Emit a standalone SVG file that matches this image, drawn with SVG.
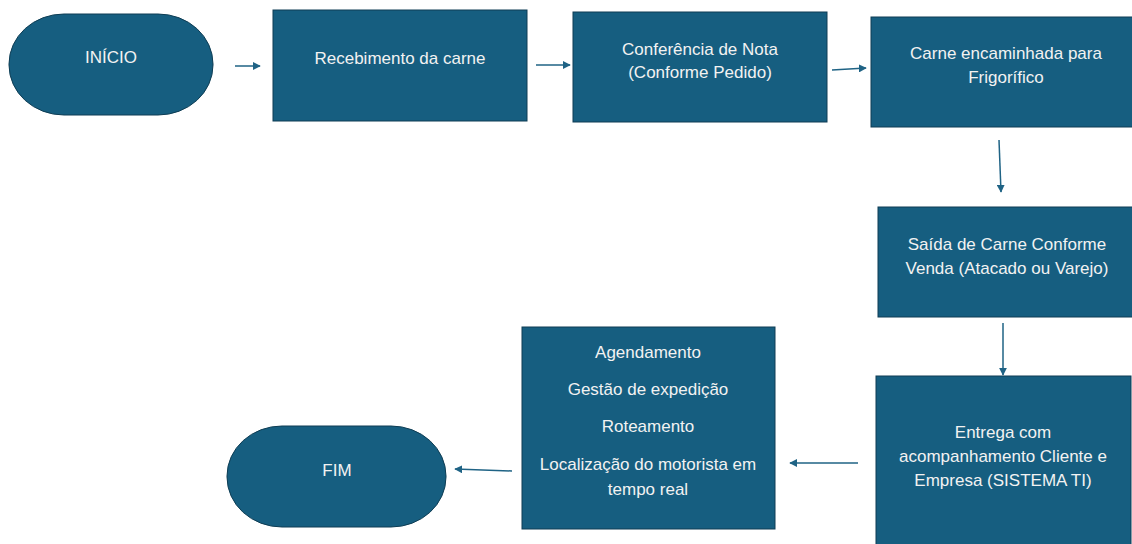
<svg xmlns="http://www.w3.org/2000/svg" width="1132" height="544" viewBox="0 0 1132 544">
<defs>
<style>
.n{fill:#165e80;stroke:#0e3d54;stroke-width:1}
.t{font-family:"Liberation Sans",Arial,sans-serif;font-size:17px;fill:#f2f2f2;text-anchor:middle}
.c{stroke:#1f6385;stroke-width:1.5;fill:none}
</style>
<marker id="ah" viewBox="0 0 10 10" refX="9" refY="5" markerWidth="8" markerHeight="8" markerUnits="userSpaceOnUse" orient="auto">
<path d="M0,0 L10,5 L0,10 z" fill="#1f6385"/>
</marker>
</defs>
<rect width="1132" height="544" fill="#ffffff"/>
<g id="connectors">
<line class="c" x1="235" y1="66" x2="260" y2="66" marker-end="url(#ah)"/>
<line class="c" x1="536" y1="65" x2="570" y2="65" marker-end="url(#ah)"/>
<line class="c" x1="832" y1="70" x2="866" y2="68" marker-end="url(#ah)"/>
<line class="c" x1="999" y1="140" x2="1001" y2="192" marker-end="url(#ah)"/>
<line class="c" x1="1003" y1="323" x2="1003" y2="375" marker-end="url(#ah)"/>
<line class="c" x1="858" y1="463" x2="790" y2="463" marker-end="url(#ah)"/>
<line class="c" x1="512" y1="471" x2="455" y2="469" marker-end="url(#ah)"/>
</g>
<g id="inicio">
<rect class="n" x="9" y="14" width="204" height="101" rx="55" ry="50"/>
<text class="t" x="111" y="63">INÍCIO</text>
</g>
<g id="recebimento">
<rect class="n" x="273" y="10" width="254" height="111"/>
<text class="t" x="400" y="64">Recebimento da carne</text>
</g>
<g id="conferencia">
<rect class="n" x="573" y="12" width="254" height="110"/>
<text class="t" x="700" y="55">Conferência de Nota</text>
<text class="t" x="700" y="78">(Conforme Pedido)</text>
</g>
<g id="frigorifico">
<rect class="n" x="871" y="17" width="262" height="110"/>
<text class="t" x="1006" y="59">Carne encaminhada para</text>
<text class="t" x="1006" y="83">Frigorífico</text>
</g>
<g id="saida">
<rect class="n" x="878" y="207" width="255" height="110"/>
<text class="t" x="1007" y="250">Saída de Carne Conforme</text>
<text class="t" x="1007" y="274">Venda (Atacado ou Varejo)</text>
</g>
<g id="entrega">
<rect class="n" x="876" y="376" width="255" height="170"/>
<text class="t" x="1003" y="438">Entrega com</text>
<text class="t" x="1003" y="462">acompanhamento Cliente e</text>
<text class="t" x="1003" y="486">Empresa (SISTEMA TI)</text>
</g>
<g id="gestao">
<rect class="n" x="522" y="327" width="253" height="202"/>
<text class="t" x="648" y="358">Agendamento</text>
<text class="t" x="648" y="395">Gestão de expedição</text>
<text class="t" x="648" y="432">Roteamento</text>
<text class="t" x="648" y="470">Localização do motorista em</text>
<text class="t" x="648" y="495">tempo real</text>
</g>
<g id="fim">
<rect class="n" x="227" y="426" width="219" height="101" rx="55" ry="50"/>
<text class="t" x="337" y="476">FIM</text>
</g>
</svg>
